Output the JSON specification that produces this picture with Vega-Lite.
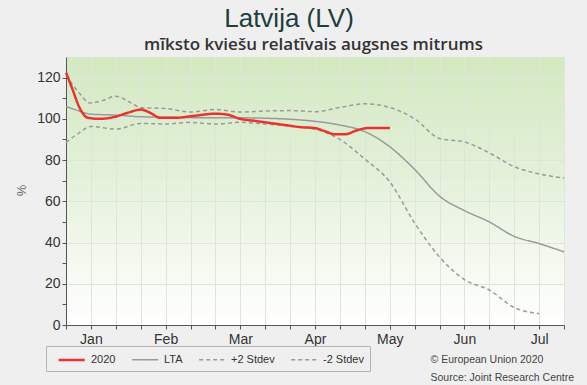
{
  "$schema": "https://vega.github.io/schema/vega-lite/v6.json",
  "width": 498,
  "height": 268,
  "autosize": {"type": "none"},
  "padding": {"left": 66, "top": 57, "right": 23, "bottom": 60},
  "background": "#efefef",
  "title": {"text": "Latvija (LV)", "font": "Liberation Sans", "fontSize": 26, "fontWeight": "normal", "color": "#213d3d", "anchor": "middle", "frame": "group", "dx": -26, "dy": 26, "offset": 8, "baseline": "alphabetic"},
  "view": {"stroke": null, "fill": {"gradient": "linear", "x1": 0, "y1": 0, "x2": 0, "y2": 1, "stops": [{"offset": 0, "color": "#d3e9c1"}, {"offset": 0.45, "color": "#e4f1da"}, {"offset": 0.8, "color": "#f6faf2"}, {"offset": 1, "color": "#ffffff"}]}},
  "data": {"values": [
    {"s": "2020", "d": 0, "v": 122.5}, {"s": "2020", "d": 0.24, "v": 115}, {"s": "2020", "d": 0.56, "v": 105}, {"s": "2020", "d": 0.88, "v": 100.5},
    {"s": "2020", "d": 1.37, "v": 100}, {"s": "2020", "d": 1.97, "v": 101}, {"s": "2020", "d": 2.49, "v": 103}, {"s": "2020", "d": 3.01, "v": 104.5},
    {"s": "2020", "d": 3.37, "v": 103}, {"s": "2020", "d": 3.78, "v": 100.5}, {"s": "2020", "d": 4.38, "v": 100.5}, {"s": "2020", "d": 5.18, "v": 101.5},
    {"s": "2020", "d": 5.98, "v": 102.5}, {"s": "2020", "d": 6.5, "v": 102}, {"s": "2020", "d": 6.99, "v": 100}, {"s": "2020", "d": 7.59, "v": 99},
    {"s": "2020", "d": 8.19, "v": 98}, {"s": "2020", "d": 8.8, "v": 97}, {"s": "2020", "d": 9.4, "v": 96}, {"s": "2020", "d": 10, "v": 95.5},
    {"s": "2020", "d": 10.4, "v": 94}, {"s": "2020", "d": 10.8, "v": 92.5}, {"s": "2020", "d": 11.2, "v": 92.5}, {"s": "2020", "d": 11.7, "v": 94.5},
    {"s": "2020", "d": 12.1, "v": 95.5}, {"s": "2020", "d": 12.5, "v": 95.5}, {"s": "2020", "d": 13.01, "v": 95.5},
    {"s": "LTA", "d": 0, "v": 106}, {"s": "LTA", "d": 0.48, "v": 104}, {"s": "LTA", "d": 0.96, "v": 102.3}, {"s": "LTA", "d": 2.05, "v": 101.8},
    {"s": "LTA", "d": 3, "v": 101}, {"s": "LTA", "d": 4, "v": 100.8}, {"s": "LTA", "d": 5, "v": 100.6}, {"s": "LTA", "d": 6, "v": 100.5},
    {"s": "LTA", "d": 7, "v": 100.5}, {"s": "LTA", "d": 8, "v": 100.3}, {"s": "LTA", "d": 9, "v": 99.8}, {"s": "LTA", "d": 10, "v": 98.8},
    {"s": "LTA", "d": 11, "v": 97}, {"s": "LTA", "d": 12, "v": 93.8}, {"s": "LTA", "d": 13, "v": 86.5}, {"s": "LTA", "d": 14, "v": 75.5},
    {"s": "LTA", "d": 15, "v": 62.5}, {"s": "LTA", "d": 16, "v": 55.5}, {"s": "LTA", "d": 17, "v": 50}, {"s": "LTA", "d": 18, "v": 43},
    {"s": "LTA", "d": 19, "v": 39.5}, {"s": "LTA", "d": 20, "v": 35.5},
    {"s": "+2 Stdev", "d": 0, "v": 121}, {"s": "+2 Stdev", "d": 0.5, "v": 113}, {"s": "+2 Stdev", "d": 0.96, "v": 107.7}, {"s": "+2 Stdev", "d": 1.5, "v": 109},
    {"s": "+2 Stdev", "d": 2, "v": 111}, {"s": "+2 Stdev", "d": 2.5, "v": 108.5}, {"s": "+2 Stdev", "d": 3, "v": 105.5}, {"s": "+2 Stdev", "d": 4, "v": 105},
    {"s": "+2 Stdev", "d": 5, "v": 103.3}, {"s": "+2 Stdev", "d": 6, "v": 104.5}, {"s": "+2 Stdev", "d": 7, "v": 103.3}, {"s": "+2 Stdev", "d": 8, "v": 103.8},
    {"s": "+2 Stdev", "d": 9, "v": 104}, {"s": "+2 Stdev", "d": 10, "v": 103.5}, {"s": "+2 Stdev", "d": 11, "v": 105.5}, {"s": "+2 Stdev", "d": 12, "v": 107.3},
    {"s": "+2 Stdev", "d": 13, "v": 105.5}, {"s": "+2 Stdev", "d": 14, "v": 100}, {"s": "+2 Stdev", "d": 15, "v": 90.5}, {"s": "+2 Stdev", "d": 16, "v": 88.8},
    {"s": "+2 Stdev", "d": 17, "v": 83.5}, {"s": "+2 Stdev", "d": 18, "v": 76.8}, {"s": "+2 Stdev", "d": 19, "v": 73.3}, {"s": "+2 Stdev", "d": 20, "v": 71.3},
    {"s": "-2 Stdev", "d": 0, "v": 88.5}, {"s": "-2 Stdev", "d": 0.5, "v": 93}, {"s": "-2 Stdev", "d": 1, "v": 96.3}, {"s": "-2 Stdev", "d": 2, "v": 95},
    {"s": "-2 Stdev", "d": 3, "v": 97.8}, {"s": "-2 Stdev", "d": 4, "v": 97.5}, {"s": "-2 Stdev", "d": 5, "v": 98.3}, {"s": "-2 Stdev", "d": 6, "v": 97.5},
    {"s": "-2 Stdev", "d": 7, "v": 98.3}, {"s": "-2 Stdev", "d": 8, "v": 97.5}, {"s": "-2 Stdev", "d": 9, "v": 96.5}, {"s": "-2 Stdev", "d": 10, "v": 95},
    {"s": "-2 Stdev", "d": 11, "v": 90}, {"s": "-2 Stdev", "d": 12, "v": 80.5}, {"s": "-2 Stdev", "d": 13, "v": 69.5}, {"s": "-2 Stdev", "d": 14, "v": 49.5},
    {"s": "-2 Stdev", "d": 15, "v": 33}, {"s": "-2 Stdev", "d": 16, "v": 22}, {"s": "-2 Stdev", "d": 17, "v": 17}, {"s": "-2 Stdev", "d": 18, "v": 8.5},
    {"s": "-2 Stdev", "d": 19, "v": 5.5}
  ]},
  "encoding": {
    "x": {"field": "d", "type": "quantitative", "scale": {"domain": [0, 20], "nice": false, "zero": false},
      "axis": {"values": [0,1,2,3,4,5,6,7,8,9,10,11,12,13,14,15,16,17,18,19,20],
        "labelExpr": "['','Jan','','','Feb','','','Mar','','','Apr','','','May','','','Jun','','','Jul',''][datum.value]",
        "labelFont": "Liberation Sans", "labelFontSize": 14, "labelColor": "#333333", "labelPadding": 3, "labelOverlap": false, "labelFlush": false,
        "tickSize": 4, "tickColor": "#555555", "domainColor": "#555555",
        "grid": true, "gridColor": "#dfe5da",
        "title": ["© European Union 2020", "Source: Joint Research Centre"], "titleX": 364, "titleY": 37, "titleAlign": "left", "titleAnchor": "start", "titleBaseline": "alphabetic",
        "titleFont": "Liberation Sans", "titleFontSize": 10.5, "titleFontWeight": "normal", "titleColor": "#444444", "titleLineHeight": 18}},
    "y": {"field": "v", "type": "quantitative", "scale": {"domain": [0, 130], "nice": false},
      "axis": {"values": [0,10,20,30,40,50,60,70,80,90,100,110,120],
        "labelExpr": "datum.value % 20 == 0 ? datum.label : ''",
        "labelFont": "Liberation Sans", "labelFontSize": 14, "labelColor": "#333333", "labelPadding": 2,
        "tickSize": 4, "tickColor": "#555555", "domainColor": "#555555",
        "grid": true, "gridColor": "#dfe5da", "gridOpacity": {"condition": {"test": "datum.value % 20 == 0", "value": 1}, "value": 0},
        "title": "%", "titleX": -38, "titleY": 133, "titleFont": "Liberation Sans", "titleFontSize": 13, "titleFontWeight": "normal", "titleColor": "#607070"}},
    "color": {"field": "s", "type": "nominal", "scale": {"domain": ["2020", "LTA", "+2 Stdev", "-2 Stdev"], "range": ["#e8332e", "#9a9a9a", "#9a9a9a", "#9a9a9a"]},
      "legend": {"orient": "none", "legendX": -20, "legendY": 289, "direction": "horizontal", "title": null, "padding": 6,
        "strokeColor": "#b5b5b5", "fillColor": "#efefef", "labelFont": "Liberation Sans", "labelFontSize": 11, "labelColor": "#333333",
        "symbolType": "M-0.2,0H3.8", "symbolSize": 169, "columnPadding": 10, "labelOffset": 23}},
    "strokeDash": {"field": "s", "type": "nominal", "scale": {"domain": ["2020", "LTA", "+2 Stdev", "-2 Stdev"], "range": [[1, 0], [1, 0], [4, 3], [4, 3]]}},
    "strokeWidth": {"field": "s", "type": "nominal", "scale": {"type": "ordinal", "domain": ["2020", "LTA", "+2 Stdev", "-2 Stdev"], "range": [2.5, 1.5, 1.5, 1.5]}}
  },
  "layer": [
    {"transform": [{"filter": "datum.s != '2020'"}], "mark": {"type": "line", "interpolate": "monotone"}},
    {"transform": [{"filter": "datum.s == '2020'"}], "mark": {"type": "line", "interpolate": "monotone"},
      "encoding": {"x": {"field": "d", "type": "quantitative", "scale": {"domain": [0, 20], "nice": false, "zero": false},
        "axis": {"orient": "top", "domain": false, "ticks": false, "labels": false, "grid": false,
          "title": "mīksto kviešu relatīvais augsnes mitrums", "titleX": 247, "titleY": -8, "titleAlign": "center", "titleAnchor": "middle", "titleBaseline": "alphabetic",
          "titleFont": "Open Sans", "titleFontSize": 17, "titleFontWeight": 600, "titleColor": "#333333"}}}}
  ],
  "resolve": {"axis": {"x": "independent"}}
}
